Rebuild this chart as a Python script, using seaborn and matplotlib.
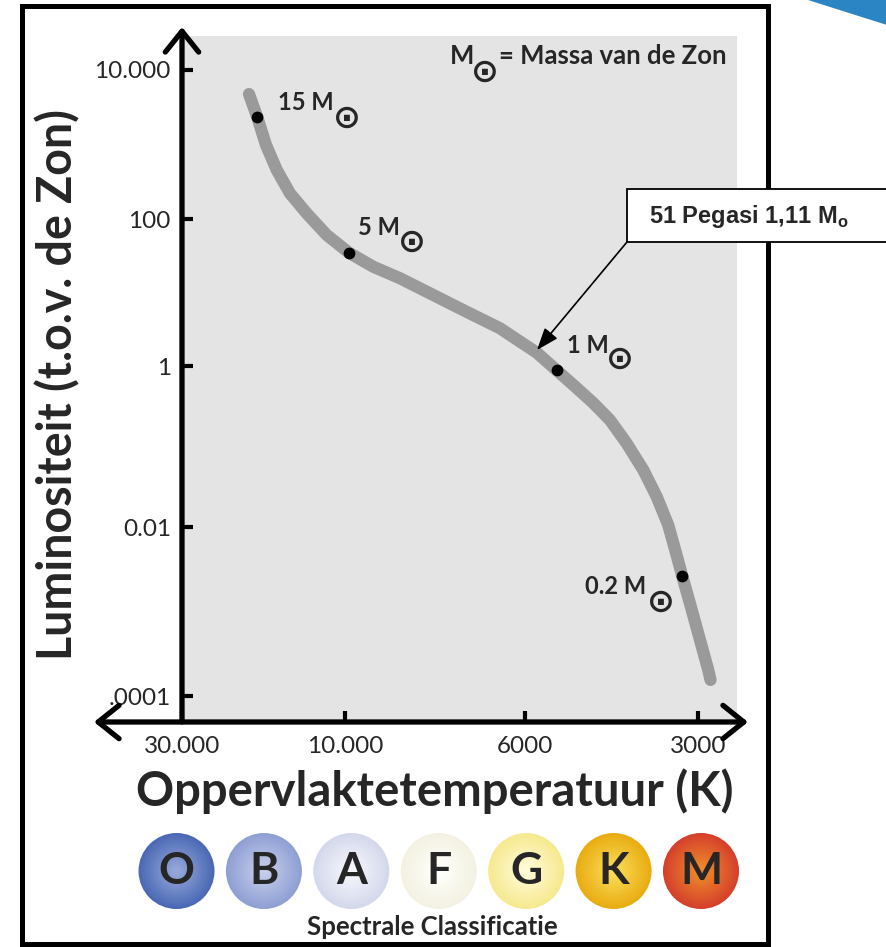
import numpy as np
import pandas as pd
import matplotlib
matplotlib.use("Agg")
import matplotlib.pyplot as plt
import seaborn as sns
from matplotlib.patches import Rectangle, Polygon

# ---------------- data ----------------
curve_temp = [19100, 18060, 17030, 15840, 14490, 12945, 11310, 9890, 9228, 8553,
              7785, 7085, 6442, 5725, 5284, 4944, 4564, 4270, 3993, 3735, 3540,
              3380, 3287, 3193, 3087, 2976, 2879, 2853]
curve_lum = [4760, 2318, 985, 455, 221, 119, 60.6, 34.8, 22.4, 15.6,
             9.25, 5.48, 3.26, 1.52, 0.884, 0.581, 0.347, 0.2135, 0.1096, 0.0511, 0.0238,
             0.01059, 0.00534, 0.00258, 0.00114, 0.00046, 0.000203, 0.000155]
mass_labels = ["15 M", "5 M", "1 M", "0.2 M"]
mass_temp = [18100, 9890, 5280, 3193]
mass_lum = [2320, 34.8, 0.88, 0.0026]
peg_label = r"51 Pegasi 1,11 M$_{\mathregular{o}}$"
peg_temp = 5718
peg_lum = 1.65
x_ticks = [30000, 10000, 6000, 3000]
x_ticklabels = ["30.000", "10.000", "6000", "3000"]
y_ticks = [1e4, 1e2, 1, 1e-2, 1e-4]
y_ticklabels = ["10.000", "100", "1", "0.01", ".0001"]
spectral_classes = ["O", "B", "A", "F", "G", "K", "M"]
class_edge = ["#4a69b4", "#8e9fd3", "#d3d8ec", "#f3f1e2", "#f6e98f", "#e9ac12", "#d5402b"]
class_center = ["#93a6d9", "#c5cdeb", "#f6f7fb", "#fffffb", "#fffbd6", "#f9dc55", "#ee8a2a"]

# ---------------- layout (pixels of the 887x947 canvas) ----------------
W, H = 887, 947
AX_L, AX_R, AX_T, AX_B = 182, 737, 36, 722
x_tick_px = [182, 345, 525, 698]
y_tick_px = [70, 219, 366, 527, 696]


def piecewise_log(vals, pos):
    lv = np.log10(np.asarray(vals, float))
    pos = np.asarray(pos, float)
    o = np.argsort(lv)
    lv, pos = lv[o], pos[o]
    s0 = (pos[1] - pos[0]) / (lv[1] - lv[0])
    s1 = (pos[-1] - pos[-2]) / (lv[-1] - lv[-2])

    def fwd(v):
        v = np.asarray(v, float)
        with np.errstate(divide="ignore", invalid="ignore"):
            l = np.log10(np.where(v > 0, v, np.nan))
        out = np.interp(l, lv, pos)
        out = np.where(l < lv[0], pos[0] + (l - lv[0]) * s0, out)
        out = np.where(l > lv[-1], pos[-1] + (l - lv[-1]) * s1, out)
        return out

    t0 = (lv[1] - lv[0]) / (pos[1] - pos[0])
    t1 = (lv[-1] - lv[-2]) / (pos[-1] - pos[-2])

    def inv(p):
        p = np.asarray(p, float)
        out = np.interp(p, pos, lv)
        out = np.where(p < pos[0], lv[0] + (p - pos[0]) * t0, out)
        out = np.where(p > pos[-1], lv[-1] + (p - pos[-1]) * t1, out)
        return 10 ** out

    return fwd, inv


sns.set_style("ticks")
plt.rcParams["font.family"] = ["Lato", "DejaVu Sans"]
plt.rcParams["mathtext.fontset"] = "dejavusans"

fig = plt.figure(figsize=(W / 100, H / 100), dpi=100)
fig.patch.set_facecolor("white")

ax = fig.add_axes([AX_L / W, 1 - AX_B / H, (AX_R - AX_L) / W, (AX_B - AX_T) / H])
ax.set_facecolor("#e4e4e4")
# both transforms increase with the value; the x axis is then shown reversed
fx, ix = piecewise_log(x_ticks, [-p for p in x_tick_px])
fy, iy = piecewise_log(y_ticks, [-p for p in y_tick_px])
ax.set_xscale("function", functions=(fx, ix))
ax.set_yscale("function", functions=(fy, iy))

curve = pd.DataFrame({"T": curve_temp, "L": curve_lum})
sns.lineplot(data=curve, x="T", y="L", sort=False, estimator=None, ax=ax,
             color="#9a9a9a", lw=8.8, solid_capstyle="round",
             solid_joinstyle="round", zorder=2)
masses = pd.DataFrame({"T": mass_temp, "L": mass_lum, "label": mass_labels})
sns.scatterplot(data=masses, x="T", y="L", ax=ax, color="black", s=72,
                linewidth=0, zorder=3)

ax.set_xlim(float(ix(-AX_L)), float(ix(-AX_R)))
ax.set_ylim(float(iy(-AX_B)), float(iy(-AX_T)))

for s in ax.spines.values():
    s.set_visible(False)
ax.set_xticks(x_ticks)
ax.set_xticklabels(x_ticklabels)
ax.set_yticks(y_ticks)
ax.set_yticklabels(y_ticklabels)
ax.minorticks_off()
ax.tick_params(axis="both", direction="in", length=8, width=3, color="black",
               labelsize=17.5, bottom=True, left=True, top=False, right=False)
ax.tick_params(axis="x", pad=10)
ax.tick_params(axis="y", pad=8)

ax.set_xlabel("Oppervlaktetemperatuur (K)", fontsize=34, fontweight="bold")
ax.xaxis.set_label_coords(0.456, (AX_B - 806) / (AX_B - AX_T))
ax.xaxis.label.set_verticalalignment("baseline")
ax.set_ylabel("Luminositeit (t.o.v. de Zon)", fontsize=33.5, fontweight="bold")
ax.yaxis.set_label_coords((58 - AX_L) / (AX_R - AX_L), 0.492)
ax.yaxis.label.set_verticalalignment("center")

# axis arrows
head = "->,head_length=0.75,head_width=0.6"
ax.annotate("", xy=(0, (AX_B - 27) / (AX_B - AX_T)), xytext=(0, 0),
            xycoords="axes fraction", textcoords="axes fraction",
            arrowprops=dict(arrowstyle=head, lw=3.8, color="black",
                            mutation_scale=20, shrinkA=0, shrinkB=0))
ax.annotate("", xy=((748 - AX_L) / (AX_R - AX_L), 0),
            xytext=((94 - AX_L) / (AX_R - AX_L), 0),
            xycoords="axes fraction", textcoords="axes fraction",
            arrowprops=dict(arrowstyle="<" + head, lw=3.8, color="black",
                            mutation_scale=20, shrinkA=0, shrinkB=0))

# mass labels (text offsets in points from the dots)
text_off = [(15, 5), (6.5, 13), (7.2, 12.7), (-70.3, -13)]
sun_off = [(64.8, -0.5), (45.4, 7.4), (45.4, 7.9), (-15.6, -18.5)]
for lab, t, l, to, so in zip(mass_labels, mass_temp, mass_lum, text_off, sun_off):
    ax.annotate(lab, xy=(t, l), xytext=to, textcoords="offset points",
                ha="left", va="baseline", fontsize=17, fontweight="bold")
    ax.annotate("\u2299", xy=(t, l), xytext=so, textcoords="offset points",
                ha="center", va="center", fontsize=24, fontfamily="DejaVu Sans",
                fontweight="bold")

# legend text for the sun symbol
def af(px, py):
    return ((px - AX_L) / (AX_R - AX_L), (AX_B - py) / (AX_B - AX_T))

ax.text(*af(450, 64), "M", transform=ax.transAxes, ha="left", va="baseline",
        fontsize=18.5, fontweight="bold")
ax.text(*af(485, 72), "\u2299", transform=ax.transAxes, ha="center", va="center",
        fontsize=24, fontfamily="DejaVu Sans", fontweight="bold")
ax.text(*af(727, 64), "= Massa van de Zon", transform=ax.transAxes, ha="right",
        va="baseline", fontsize=18.5, fontweight="bold")

# 51 Pegasi callout
fig.add_artist(Rectangle((627 / W, 1 - 242 / H), (900 - 627) / W, 53 / H,
                         transform=fig.transFigure, fc="white", ec="black",
                         lw=1.3, zorder=5))
fig.text(649 / W, 1 - 223 / H, peg_label, fontfamily="Liberation Sans",
         fontweight="bold", fontsize=17, va="baseline", zorder=6)
ax.annotate("", xy=(peg_temp, peg_lum), xycoords="data",
            xytext=(627 / W, 1 - 242 / H), textcoords="figure fraction",
            arrowprops=dict(arrowstyle="-|>,head_length=0.75,head_width=0.28",
                            lw=1.2, color="black", mutation_scale=18,
                            shrinkA=0, shrinkB=0), zorder=4)

# outer frame and corner triangle
fig.add_artist(Rectangle((22.5 / W, 1 - 944 / H), (768 - 22.5) / W, (944 - 6.5) / H,
                         transform=fig.transFigure, fill=False, ec="black",
                         lw=3.6, zorder=4))
fig.add_artist(Polygon([(808 / W, 1), (1, 1), (1, 1 - 25 / H)], closed=True,
                       transform=fig.transFigure, fc="#2b84c3", ec="none", zorder=4))

# spectral class circles
step = (701 - 176.5) / 6
ax2 = fig.add_axes([(176.5 - step / 2) / W, 1 - 917 / H, 7 * step / W, 92 / H])
ax2.set_xlim(-0.5, 6.5)
ax2.set_ylim(-0.5, 0.5)
ax2.axis("off")
idx = list(range(len(spectral_classes)))
spec = pd.DataFrame({"pos": idx, "y": [0] * len(idx), "cls": spectral_classes})
n_layers = 26
diam_pt = 76 * 0.72
for k in range(n_layers):
    f = k / (n_layers - 1)
    pal = {}
    for c, e, m in zip(spectral_classes, class_edge, class_center):
        e_rgb = np.array(matplotlib.colors.to_rgb(e))
        m_rgb = np.array(matplotlib.colors.to_rgb(m))
        pal[c] = tuple(e_rgb * (1 - f) + m_rgb * f)
    d = diam_pt * (1 - 0.9 * f)
    sns.scatterplot(data=spec, x="pos", y="y", hue="cls", palette=pal, s=d ** 2,
                    linewidth=0, legend=False, ax=ax2, zorder=1 + k * 0.01)
for i, c in enumerate(spectral_classes):
    ax2.text(i, 0, c, ha="center", va="center", fontsize=32, fontweight="bold",
             zorder=3)
ax2.set_xlabel("")
ax2.set_ylabel("")
fig.text(432.5 / W, 1 - 935 / H, "Spectrale Classificatie", ha="center",
         va="baseline", fontsize=18.5, fontweight="bold")

fig.savefig("out.png", dpi=100, facecolor="white")
